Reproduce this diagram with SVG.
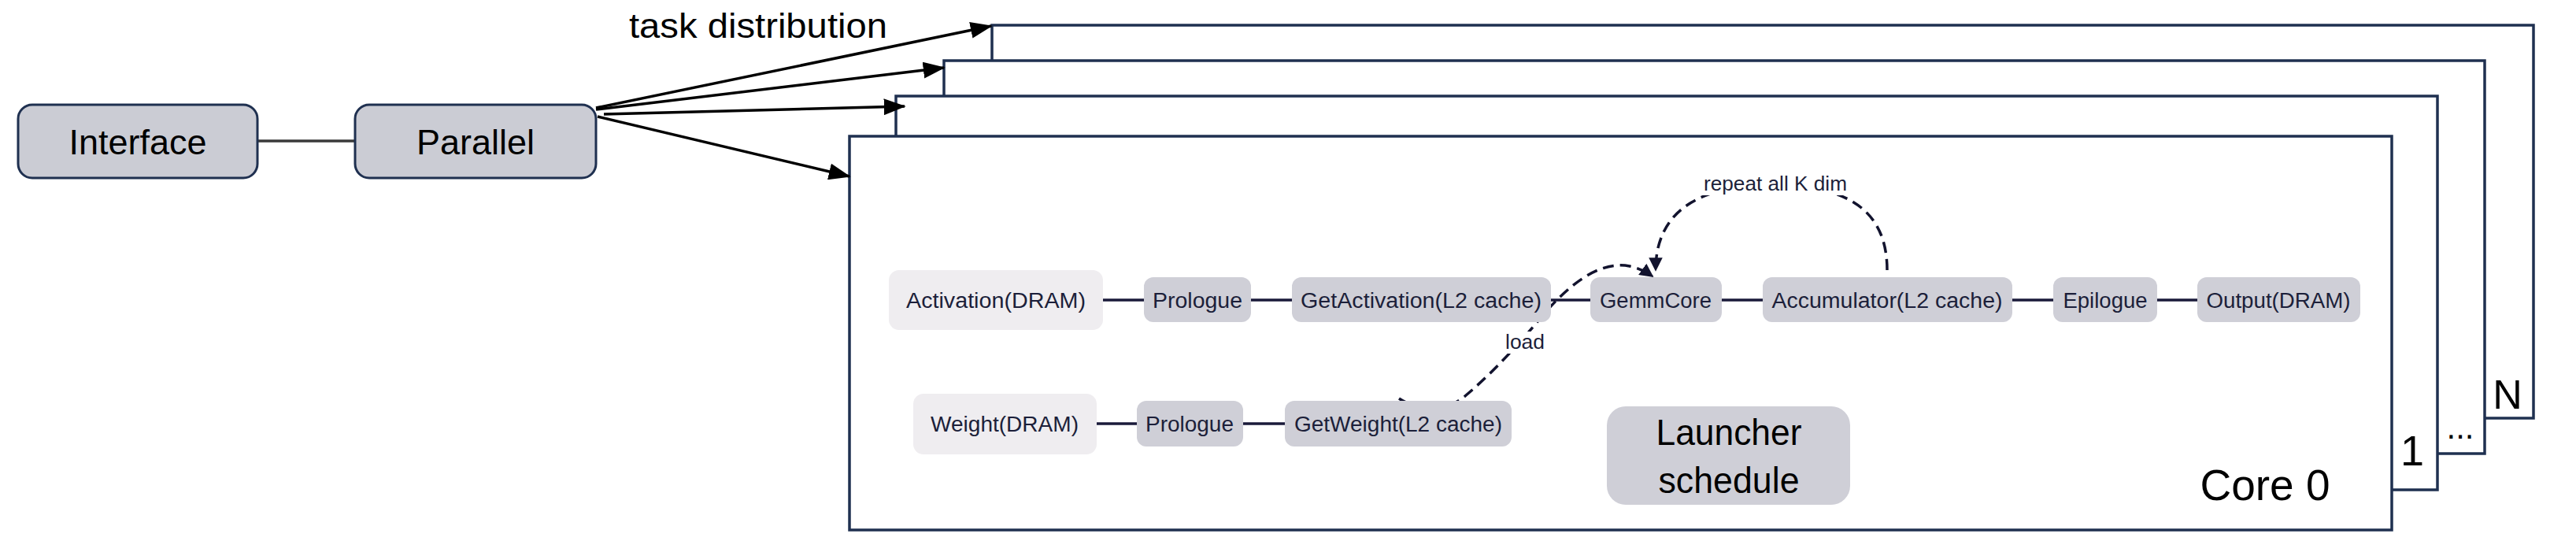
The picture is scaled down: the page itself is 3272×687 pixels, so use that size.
<svg xmlns="http://www.w3.org/2000/svg" width="3272" height="687" viewBox="0 0 3272 687">
<style>
.big{font-family:"Liberation Sans",Arial,sans-serif;fill:#000}
.n{font-family:"Liberation Sans",Arial,sans-serif;font-size:27px;fill:#1c1f3a;text-anchor:middle}
.lbl{font-family:"Liberation Sans",Arial,sans-serif;font-size:26px;fill:#1c1f3a;text-anchor:middle}
.top{fill:#cbccd4;stroke:#1f3050;stroke-width:3}
.frame{fill:#fff;stroke:#1f3050;stroke-width:3.5}
.light{fill:#efedf0}
.mid{fill:#cfcfd7}
.link{stroke:#1a1a3a;stroke-width:3.5;fill:none}
.dash{stroke:#12132e;stroke-width:3.5;fill:none;stroke-dasharray:14 8}
.arr{stroke:#000;stroke-width:3.5;fill:none}
</style>
<defs>
<marker id="ah" markerWidth="8" markerHeight="6" refX="7.5" refY="3" orient="auto" markerUnits="strokeWidth">
<path d="M0,0 L8,3 L0,6 Z" fill="#000"/>
</marker>
<marker id="dh" markerWidth="5" markerHeight="5" refX="4.5" refY="2.5" orient="auto" markerUnits="strokeWidth">
<path d="M0,0 L5,2.5 L0,5 Z" fill="#12132e"/>
</marker>
</defs>
<rect width="3272" height="687" fill="#fff"/>

<g id="frame-N"><rect class="frame" x="1260" y="32" width="1958" height="499"/><text class="big" x="3185" y="519" font-size="52" text-anchor="middle">N</text></g>
<g id="frame-dots"><rect class="frame" x="1199" y="77" width="1957" height="499"/><text class="big" x="3125" y="557" font-size="42" text-anchor="middle">...</text></g>
<g id="frame-1"><rect class="frame" x="1138" y="122" width="1958" height="500"/><text class="big" x="3064" y="591" font-size="54" text-anchor="middle">1</text></g>
<g id="frame-core0"><rect class="frame" x="1079" y="173" width="1959" height="500"/><text class="big" x="2877" y="635" font-size="55" text-anchor="middle">Core 0</text></g>

<g id="connectors">
<line x1="327" y1="179" x2="451" y2="179" stroke="#3a3a3a" stroke-width="3.5"/>
<line class="arr" x1="757" y1="137" x2="1259" y2="33" marker-end="url(#ah)"/>
<line class="arr" x1="757" y1="139" x2="1199" y2="86" marker-end="url(#ah)"/>
<line class="arr" x1="767" y1="145" x2="1149" y2="135" marker-end="url(#ah)"/>
<line class="arr" x1="759" y1="148" x2="1079" y2="224" marker-end="url(#ah)"/>
<line class="link" x1="1401" y1="381" x2="1453" y2="381"/>
<line class="link" x1="1589" y1="381" x2="1641" y2="381"/>
<line class="link" x1="1970" y1="381" x2="2020" y2="381"/>
<line class="link" x1="2187" y1="381" x2="2239" y2="381"/>
<line class="link" x1="2556" y1="381" x2="2608" y2="381"/>
<line class="link" x1="2740" y1="381" x2="2791" y2="381"/>
<line class="link" x1="1393" y1="538" x2="1444" y2="538"/>
<line class="link" x1="1579" y1="538" x2="1632" y2="538"/>
<path class="dash" d="M1777,506 C1800,522 1840,522 1862,502 C1900,470 1935,430 1960,400 C1990,365 2030,330 2070,338 C2083,341 2092,346 2099,351" marker-end="url(#dh)"/>
<path class="dash" d="M2397,343 C2397,250 2320,235 2250,235 C2180,235 2103,255 2103,343" marker-end="url(#dh)"/>
<rect x="2160" y="220" width="190" height="28" fill="#fff"/>
<text class="lbl" x="2255" y="242" textLength="182" lengthAdjust="spacingAndGlyphs">repeat all K dim</text>
<rect x="1909" y="421" width="56" height="28" fill="#fff"/>
<text class="lbl" x="1937" y="443" textLength="50" lengthAdjust="spacingAndGlyphs">load</text>
<text class="big" x="963" y="48" font-size="45" text-anchor="middle" textLength="328" lengthAdjust="spacingAndGlyphs">task distribution</text>
</g>

<g id="interface"><rect class="top" x="23" y="133" width="304" height="93" rx="18"/><text class="big" x="175" y="196" font-size="45" text-anchor="middle">Interface</text></g>
<g id="parallel"><rect class="top" x="451" y="133" width="306" height="93" rx="18"/><text class="big" x="604" y="196" font-size="45" text-anchor="middle">Parallel</text></g>

<g id="activation-dram"><rect class="light" x="1129" y="343" width="272" height="76" rx="13"/><text class="n" x="1265" y="391" textLength="228" lengthAdjust="spacingAndGlyphs">Activation(DRAM)</text></g>
<g id="prologue-a"><rect class="mid" x="1453" y="352" width="136" height="57" rx="12"/><text class="n" x="1521" y="391" textLength="114" lengthAdjust="spacingAndGlyphs">Prologue</text></g>
<g id="getactivation"><rect class="mid" x="1641" y="352" width="329" height="57" rx="12"/><text class="n" x="1805" y="391" textLength="306" lengthAdjust="spacingAndGlyphs">GetActivation(L2 cache)</text></g>
<g id="gemmcore"><rect class="mid" x="2020" y="352" width="167" height="57" rx="12"/><text class="n" x="2103" y="391" textLength="142" lengthAdjust="spacingAndGlyphs">GemmCore</text></g>
<g id="accumulator"><rect class="mid" x="2239" y="352" width="317" height="57" rx="12"/><text class="n" x="2397" y="391" textLength="293" lengthAdjust="spacingAndGlyphs">Accumulator(L2 cache)</text></g>
<g id="epilogue"><rect class="mid" x="2608" y="352" width="132" height="57" rx="12"/><text class="n" x="2674" y="391" textLength="107" lengthAdjust="spacingAndGlyphs">Epilogue</text></g>
<g id="output-dram"><rect class="mid" x="2791" y="352" width="207" height="57" rx="12"/><text class="n" x="2894" y="391" textLength="183" lengthAdjust="spacingAndGlyphs">Output(DRAM)</text></g>

<g id="weight-dram"><rect class="light" x="1160" y="500" width="233" height="77" rx="13"/><text class="n" x="1276" y="548" textLength="188" lengthAdjust="spacingAndGlyphs">Weight(DRAM)</text></g>
<g id="prologue-w"><rect class="mid" x="1444" y="509" width="135" height="58" rx="12"/><text class="n" x="1511" y="548" textLength="112" lengthAdjust="spacingAndGlyphs">Prologue</text></g>
<g id="getweight"><rect class="mid" x="1632" y="509" width="288" height="58" rx="12"/><text class="n" x="1776" y="548" textLength="264" lengthAdjust="spacingAndGlyphs">GetWeight(L2 cache)</text></g>

<g id="launcher"><rect class="mid" x="2041" y="516" width="309" height="125" rx="24"/>
<text class="big" x="2196" y="565" font-size="47" text-anchor="middle" textLength="185" lengthAdjust="spacingAndGlyphs">Launcher</text>
<text class="big" x="2196" y="626" font-size="47" text-anchor="middle" textLength="179" lengthAdjust="spacingAndGlyphs">schedule</text></g>
</svg>
